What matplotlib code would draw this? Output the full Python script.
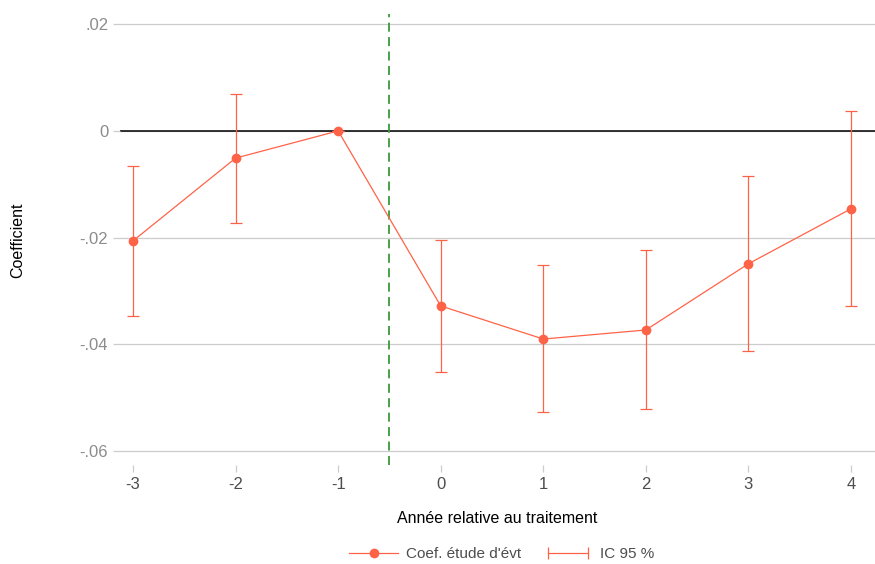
import matplotlib
matplotlib.use("Agg")
import matplotlib.pyplot as plt
from matplotlib.lines import Line2D
from matplotlib.legend_handler import HandlerLine2D
import numpy as np

plt.rcParams['font.family'] = ['Liberation Sans', 'DejaVu Sans']

# données : coefficients de l'étude d'événement
annees = [-3, -2, -1, 0, 1, 2, 3, 4]
coef = [-0.0206, -0.0051, 0.0, -0.0328, -0.0390, -0.0373, -0.0249, -0.0146]
ic_haut = [-0.0066, 0.0069, 0.0, -0.0204, -0.0251, -0.0223, -0.0084, 0.0037]
ic_bas = [-0.0346, -0.0172, 0.0, -0.0451, -0.0526, -0.0522, -0.0412, -0.0328]
yticks = [0.02, 0.0, -0.02, -0.04, -0.06]
ylabels = ['.02', '0', '-.02', '-.04', '-.06']

rouge = '#ff6347'

fig = plt.figure(figsize=(8.75, 5.64), dpi=100)
ax = fig.add_axes([120/875, 1 - 465/564, 755/875, 451/564])

# grille horizontale
for yt in yticks:
    ax.axhline(yt, color='#cccccc', lw=0.9, zorder=0)
ax.axhline(0, color='black', lw=1.1, zorder=1)
ax.axvline(-0.5, color='#3a9a3a', lw=1.3, ls=(0, (5, 3)), zorder=2)

# intervalles de confiance
err_bas = np.array(coef) - np.array(ic_bas)
err_haut = np.array(ic_haut) - np.array(coef)
ax.errorbar(annees, coef, yerr=[err_bas, err_haut], fmt='none', ecolor=rouge,
            elinewidth=0.9, capsize=4, capthick=0.9, zorder=3)
ax.plot(annees, coef, color=rouge, lw=0.9, marker='o', ms=6, zorder=4)

ax.set_xlim(-3.127, 4.234)
ax.set_ylim(-0.0626, 0.0219)
ax.set_xticks(annees)
ax.set_xticklabels([str(a) for a in annees])
ax.set_yticks(yticks)
ax.set_yticklabels(ylabels)
ax.tick_params(axis='y', colors='#cccccc', labelcolor='#8c8c8c', labelsize=12, length=5, width=0.9)
ax.tick_params(axis='x', colors='#cccccc', labelcolor='#4d4d4d', labelsize=12, length=5, width=0.9)
for s in ax.spines.values():
    s.set_visible(False)

ax.set_xlabel('Année relative au traitement', fontsize=11.5, color='black', labelpad=14)
fig.text(18/875, 1 - 240/564, 'Coefficient', rotation=90, fontsize=11.5,
         ha='center', va='center')

# légende
h_coef = Line2D([], [], color=rouge, lw=0.9, marker='o', ms=6)
h_ic = Line2D([], [], color=rouge, lw=0.9, marker='|', ms=8, mew=0.9)
fig.legend([h_coef, h_ic], ["Coef. étude d'évt", 'IC 95 %'], loc='center',
           bbox_to_anchor=(502/875, 1 - 554/564), ncol=2, frameon=False,
           fontsize=11, labelcolor='#4d4d4d', handlelength=3.2, handletextpad=0.5,
           columnspacing=1.5, handler_map={h_ic: HandlerLine2D(numpoints=2)})

fig.savefig('out.png', dpi=100)
